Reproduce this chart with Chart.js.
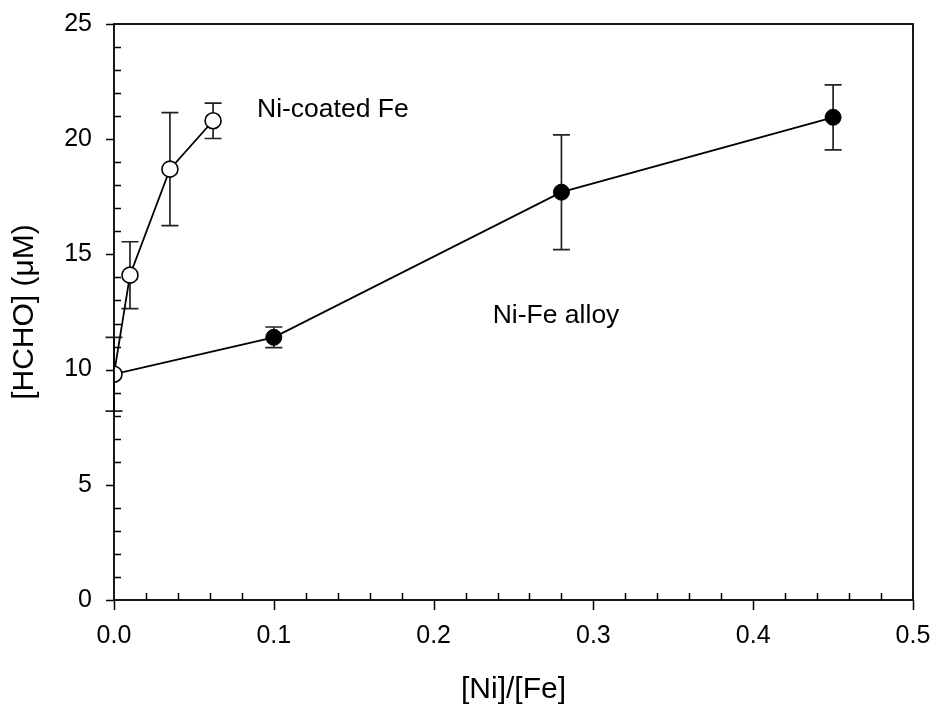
<!DOCTYPE html>
<html>
<head>
<meta charset="utf-8">
<script src="https://cdn.jsdelivr.net/npm/chart.js@4.4.0/dist/chart.umd.min.js"></script>
<style>
  html, body { margin: 0; padding: 0; background: #fff; }
  #wrap { width: 936px; height: 709px; }
</style>
</head>
<body>
<div id="wrap"><canvas id="myChart" width="936" height="709"></canvas></div>
<script>
// Ni-coated Fe (open circles)
const coatedX = [0, 0.01, 0.035, 0.062];
const coatedY = [9.8, 14.1, 18.7, 20.8];
const coatedErr = [1.6, 1.45, 2.45, 0.77];

// Ni-Fe alloy (filled circles), starts from the same bare Fe point
const alloyX = [0, 0.1, 0.28, 0.45];
const alloyY = [9.8, 11.4, 17.7, 20.95];
const alloyErr = [0, 0.45, 2.49, 1.41];

const xTicks = [0, 0.1, 0.2, 0.3, 0.4, 0.5];
const yTicks = [0, 5, 10, 15, 20, 25];

const labels = [
    { text: 'Ni-coated Fe', x: 0.0895, y: 21.3 },
    { text: 'Ni-Fe alloy', x: 0.237, y: 12.35 }
];

const FONT = '"Liberation Sans", Arial, Helvetica, sans-serif';

function toPoints(xs, ys) {
    return xs.map((x, i) => ({ x: x, y: ys[i] }));
}

// error bars, ticks, frame and text labels
const decor = {
    id: 'decor',
    beforeDatasetsDraw(chart) {
        const ctx = chart.ctx;
        const xs = chart.scales.x, ys = chart.scales.y;
        ctx.save();
        ctx.strokeStyle = '#222';
        ctx.lineWidth = 1.7;
        const bars = [[coatedX, coatedY, coatedErr], [alloyX, alloyY, alloyErr]];
        bars.forEach(([bx, by, be]) => {
            bx.forEach((v, i) => {
                if (!be[i]) return;
                const px = xs.getPixelForValue(v);
                const top = ys.getPixelForValue(by[i] + be[i]);
                const bot = ys.getPixelForValue(by[i] - be[i]);
                ctx.beginPath();
                ctx.moveTo(px, top); ctx.lineTo(px, bot);
                ctx.moveTo(px - 8.5, top); ctx.lineTo(px + 8.5, top);
                ctx.moveTo(px - 8.5, bot); ctx.lineTo(px + 8.5, bot);
                ctx.stroke();
            });
        });
        ctx.restore();
    },
    afterDraw(chart) {
        const ctx = chart.ctx;
        const a = chart.chartArea;
        const xs = chart.scales.x, ys = chart.scales.y;
        ctx.save();
        ctx.strokeStyle = '#000';
        ctx.lineWidth = 1.8;
        ctx.strokeRect(a.left, a.top, a.right - a.left, a.bottom - a.top);

        ctx.beginPath();
        ctx.lineWidth = 1.5;
        // y ticks: major outward, minor inward
        for (let v = 0; v <= 25; v++) {
            const py = Math.round(ys.getPixelForValue(v)) + 0.5;
            if (v % 5 === 0) {
                ctx.moveTo(a.left - 8, py); ctx.lineTo(a.left, py);
            } else {
                ctx.moveTo(a.left, py); ctx.lineTo(a.left + 7, py);
            }
        }
        // x ticks
        for (let k = 0; k <= 25; k++) {
            const px = Math.round(xs.getPixelForValue(k * 0.02)) + 0.5;
            if (k % 5 === 0) {
                ctx.moveTo(px, a.bottom); ctx.lineTo(px, a.bottom + 10);
            } else {
                ctx.moveTo(px, a.bottom); ctx.lineTo(px, a.bottom - 7);
            }
        }
        ctx.stroke();

        ctx.fillStyle = '#000';
        ctx.font = '26.5px ' + FONT;
        ctx.textBaseline = 'middle';
        ctx.textAlign = 'left';
        labels.forEach(l => {
            ctx.fillText(l.text, xs.getPixelForValue(l.x), ys.getPixelForValue(l.y));
        });
        ctx.restore();
    }
};

const config = {
    type: 'scatter',
    data: {
        datasets: [
            {
                label: 'Ni-coated Fe',
                data: toPoints(coatedX, coatedY),
                showLine: true,
                borderColor: '#000',
                borderWidth: 1.8,
                backgroundColor: '#fff',
                pointBackgroundColor: '#fff',
                pointBorderColor: '#000',
                pointBorderWidth: 1.6,
                pointRadius: 8,
                pointHoverRadius: 8,
                tension: 0
            },
            {
                label: 'Ni-Fe alloy',
                data: toPoints(alloyX, alloyY),
                showLine: true,
                borderColor: '#000',
                borderWidth: 1.8,
                backgroundColor: '#000',
                pointBackgroundColor: '#000',
                pointBorderColor: '#000',
                pointBorderWidth: 1,
                pointRadius: [0, 8, 8, 8],
                pointHoverRadius: [0, 8, 8, 8],
                tension: 0
            }
        ]
    },
    options: {
        responsive: false,
        animation: false,
        layout: { padding: { top: 24, right: 23, left: 0, bottom: 0 } },
        plugins: {
            legend: { display: false },
            tooltip: { enabled: false }
        },
        scales: {
            x: {
                type: 'linear',
                min: 0, max: 0.5,
                afterFit: s => {
                    s.height = 109;
                    s.paddingLeft = 0; s.paddingRight = 0;
                },
                afterBuildTicks: s => { s.ticks = xTicks.map(v => ({ value: v })); },
                grid: { display: false, drawTicks: false },
                border: { display: false },
                ticks: {
                    padding: 21,
                    color: '#000',
                    font: { family: FONT, size: 25 },
                    maxRotation: 0,
                    callback: v => v.toFixed(1)
                },
                title: {
                    display: true,
                    text: '[Ni]/[Fe]',
                    color: '#000',
                    font: { family: FONT, size: 30 },
                    padding: { top: 0, bottom: 1 }
                }
            },
            y: {
                type: 'linear',
                min: 0, max: 25,
                afterFit: s => {
                    s.width = 114;
                    s.paddingTop = 0; s.paddingBottom = 0;
                },
                afterBuildTicks: s => { s.ticks = yTicks.map(v => ({ value: v })); },
                grid: { display: false, drawTicks: false },
                border: { display: false },
                ticks: {
                    padding: 22,
                    color: '#000',
                    font: { family: FONT, size: 25 },
                    callback: v => String(v)
                },
                title: {
                    display: true,
                    text: '[HCHO] (\u03BCM)',
                    color: '#000',
                    font: { family: FONT, size: 30 },
                    padding: { top: 7, bottom: 0 }
                }
            }
        }
    },
    plugins: [decor]
};

const chart = new Chart(document.getElementById('myChart'), config);
</script>
</body>
</html>
